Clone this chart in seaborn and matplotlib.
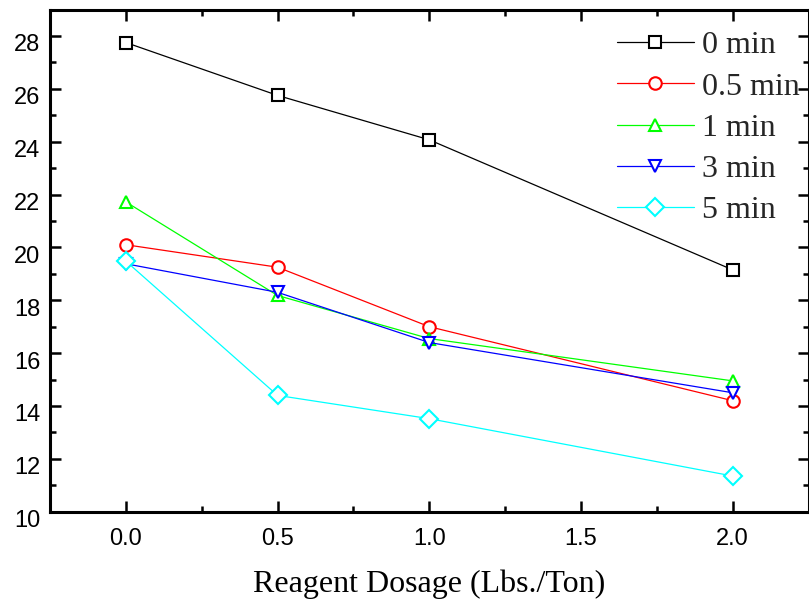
import numpy as np
import pandas as pd
import matplotlib
matplotlib.use('Agg')
import matplotlib.pyplot as plt
import matplotlib.transforms as mtransforms
from matplotlib.ticker import MultipleLocator, FormatStrFormatter
import seaborn as sns

# data
dosage = [0.0, 0.5, 1.0, 2.0]
times = ['0 min', '0.5 min', '1 min', '3 min', '5 min']
grade_0min = [27.75, 25.75, 24.07, 19.15]
grade_05min = [20.1, 19.25, 17.0, 14.2]
grade_1min = [21.72, 18.18, 16.55, 14.95]
grade_3min = [19.38, 18.3, 16.4, 14.5]
grade_5min = [19.48, 14.4, 13.52, 11.35]

colors = ['black', 'red', '#00ff00', 'blue', '#00ffff']
marker_list = ['s', 'o', '^', 'v', 'D']

sns.set_style('ticks')
plt.rcParams['font.family'] = ['Liberation Sans', 'DejaVu Sans']

# build a long table for seaborn
series = [grade_0min, grade_05min, grade_1min, grade_3min, grade_5min]
rows = []
for t, vals in zip(times, series):
    for x, v in zip(dosage, vals):
        rows.append({'dosage': x, 'value': v, 'time': t})
df = pd.DataFrame(rows)

fig = plt.figure(figsize=(8.09, 6.01), dpi=100)
ax = fig.add_axes([50 / 809, 1 - 511.7 / 601, 758.5 / 809, 502.2 / 601])

sns.lineplot(data=df, x='dosage', y='value', hue='time', style='time',
             hue_order=times, style_order=times,
             palette=dict(zip(times, colors)), markers=dict(zip(times, marker_list)),
             dashes=False, legend=False, ax=ax, linewidth=0.9)

# hollow (white filled) markers like the original
for line, c in zip(ax.lines, colors):
    line.set_markerfacecolor('white')
    line.set_markeredgecolor(c)
    line.set_markeredgewidth(1.5)
    line.set_markersize(9)
    line.set_clip_on(False)

ax.set_xlim(-0.25, 2.25)
ax.set_ylim(10, 29)
ax.xaxis.set_major_locator(MultipleLocator(0.5))
ax.xaxis.set_minor_locator(MultipleLocator(0.25))
ax.yaxis.set_major_locator(MultipleLocator(2))
ax.yaxis.set_minor_locator(MultipleLocator(1))
ax.xaxis.set_major_formatter(FormatStrFormatter('%.1f'))

for s in ax.spines.values():
    s.set_linewidth(2.2)
    s.set_color('black')
    s.set_visible(True)
ax.tick_params(which='both', direction='in', top=True, right=True, width=1.8,
               color='black', labelcolor='black')
ax.tick_params(which='major', length=8)
ax.tick_params(which='minor', length=4.5)
ax.tick_params(axis='x', which='major', labelsize=17, pad=12)
ax.tick_params(axis='y', which='major', labelsize=17, pad=7)

# y labels sit a little below their ticks in the original
offset = mtransforms.ScaledTranslation(0, -7 / 100, fig.dpi_scale_trans)
for lab in ax.get_yticklabels():
    lab.set_transform(lab.get_transform() + offset)

ax.set_xlabel('Reagent Dosage (Lbs./Ton)', fontsize=23, family='Liberation Serif',
              labelpad=14, color='black')
ax.set_ylabel('')

leg = ax.legend(handles=ax.lines, labels=times, loc='upper left',
                bbox_to_anchor=(0.7475, 0.957), frameon=False,
                borderpad=0, borderaxespad=0, handlelength=2.4,
                handletextpad=0.25, labelspacing=0.37,
                prop={'family': 'Liberation Serif', 'size': 23})

fig.savefig('out.png', dpi=100)
